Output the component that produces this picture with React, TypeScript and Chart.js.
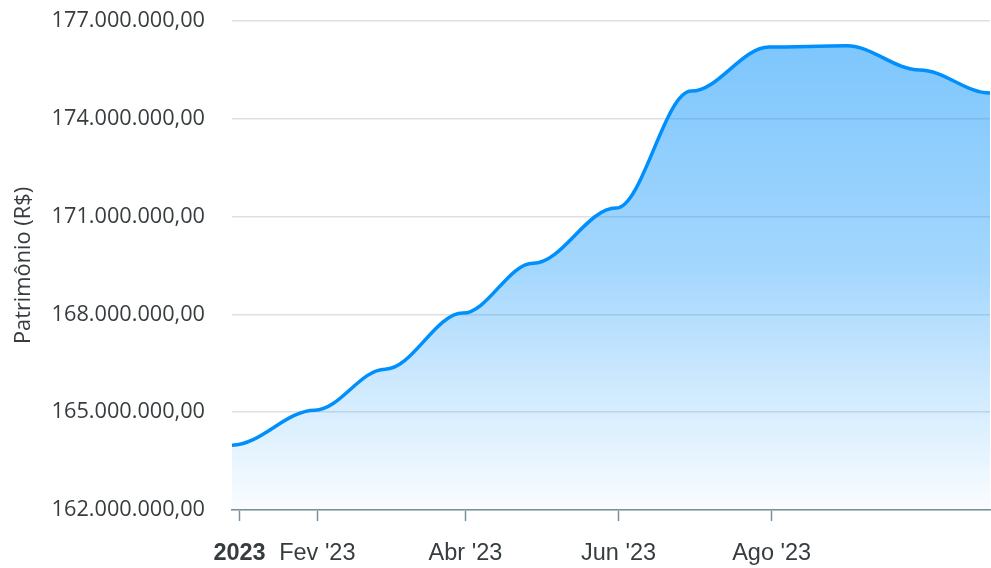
import React, { useEffect, useRef } from 'react';
import { Chart, registerables } from 'chart.js';

Chart.register(...registerables);

// ---- data ----
const dates = [
  '2022-12-29', '2023-01-31', '2023-02-28', '2023-03-31', '2023-04-28', '2023-05-31',
  '2023-06-30', '2023-07-31', '2023-08-31', '2023-09-29', '2023-10-27',
];
const patrimonio = [
  163990000, 165060000, 166320000, 168040000, 169570000, 171260000,
  174850000, 176200000, 176240000, 175500000, 174790000,
];
const tickDates = ['2023-01-01', '2023-02-01', '2023-04-01', '2023-06-01', '2023-08-01'];
const tickLabels = ['2023', "Fev '23", "Abr '23", "Jun '23", "Ago '23"];
const yMin = 162000000;
const yMax = 177000000;
const yStep = 3000000;
const yTitle = 'Patrimônio (R$)';

const toDay = (s: string) => Date.parse(s + 'T00:00:00Z') / 86400000;

const fmtBR = (v: number) =>
  Math.round(v).toString().replace(/\B(?=(\d{3})+(?!\d))/g, '.') + ',00';

// ApexCharts-like "smooth" curve: horizontal control points at 35% of segment width
const apexSmooth = {
  id: 'apexSmooth',
  beforeDatasetsDraw(chart: any) {
    chart.getSortedVisibleDatasetMetas().forEach((meta: any) => {
      const line = meta.dataset;
      if (!line) return;
      line.updateControlPoints(chart.chartArea, meta.indexAxis || 'x');
      const pts = meta.data;
      for (let i = 0; i < pts.length; i++) {
        const p = pts[i];
        const prev = pts[i - 1];
        const next = pts[i + 1];
        p.cp1x = prev ? p.x - (p.x - prev.x) * 0.35 : p.x;
        p.cp1y = p.y;
        p.cp2x = next ? p.x + (next.x - p.x) * 0.35 : p.x;
        p.cp2y = p.y;
      }
    });
  },
};

export default function App() {
  const ref = useRef<HTMLCanvasElement | null>(null);

  useEffect(() => {
    if (!ref.current) return;
    const jan1 = toDay(tickDates[0]);
    const chart = new Chart(ref.current, {
      type: 'line',
      data: {
        datasets: [
          {
            label: yTitle,
            data: dates.map((d, i) => ({ x: toDay(d), y: patrimonio[i] })),
            borderColor: '#008ffb',
            borderWidth: 3.5,
            pointRadius: 0,
            tension: 0.35,
            fill: 'start',
            backgroundColor: (ctx: any) => {
              const { chart: ch } = ctx;
              const area = ch.chartArea;
              if (!area) return 'rgba(0,143,251,0.3)';
              const g = ch.ctx.createLinearGradient(0, area.top, 0, area.bottom);
              g.addColorStop(0, 'rgba(0,143,251,0.52)');
              g.addColorStop(0.5, 'rgba(0,143,251,0.36)');
              g.addColorStop(1, 'rgba(0,143,251,0.02)');
              return g;
            },
          },
        ],
      },
      options: {
        animation: false,
        responsive: false,
        maintainAspectRatio: false,
        layout: { padding: { top: 21, right: 1, left: 0, bottom: 0 } },
        plugins: {
          legend: { display: false },
          tooltip: { enabled: false },
        },
        scales: {
          x: {
            type: 'linear',
            min: toDay(dates[0]),
            max: toDay(dates[dates.length - 1]),
            afterBuildTicks: (scale: any) => {
              scale.ticks = tickDates.map((d) => ({ value: toDay(d) }));
            },
            afterFit: (scale: any) => {
              scale.height = 58;
              scale.paddingLeft = 0;
              scale.paddingRight = 0;
            },
            ticks: {
              autoSkip: false,
              maxRotation: 0,
              minRotation: 0,
              padding: 18,
              color: '#373d3f',
              font: (ctx: any) => ({
                family: '"Liberation Sans", Arial, sans-serif',
                size: 23.5,
                weight: ctx.tick && ctx.tick.value === jan1 ? 'bold' : 'normal',
              }),
              callback: (_v: any, i: number) => tickLabels[i],
            },
            grid: {
              drawOnChartArea: false,
              tickLength: 11,
              color: '#78909c',
              tickWidth: 1.5,
            },
            border: { color: '#78909c', width: 1.5 },
          },
          y: {
            min: yMin,
            max: yMax,
            afterFit: (scale: any) => {
              scale.width = 232;
              scale.paddingTop = 0;
              scale.paddingBottom = 0;
            },
            ticks: {
              stepSize: yStep,
              padding: 27,
              color: '#373d3f',
              font: { family: '"Open Sans", sans-serif', size: 21.7 },
              callback: (v: any) => fmtBR(Number(v)),
            },
            grid: { color: '#e0e0e0', lineWidth: 1.5, drawTicks: false },
            border: { display: false },
            title: {
              display: true,
              text: yTitle,
              color: '#373d3f',
              font: { family: '"Open Sans", sans-serif', size: 21.8, weight: 'normal' },
              padding: { top: 11, bottom: 0 },
            },
          },
        },
      },
      plugins: [apexSmooth],
    } as any);
    return () => chart.destroy();
  }, []);

  return (
    <div style={{ position: 'absolute', left: 0, top: 0, width: 991, height: 568 }}>
      <canvas ref={ref} width={991} height={568} style={{ display: 'block' }} />
    </div>
  );
}
